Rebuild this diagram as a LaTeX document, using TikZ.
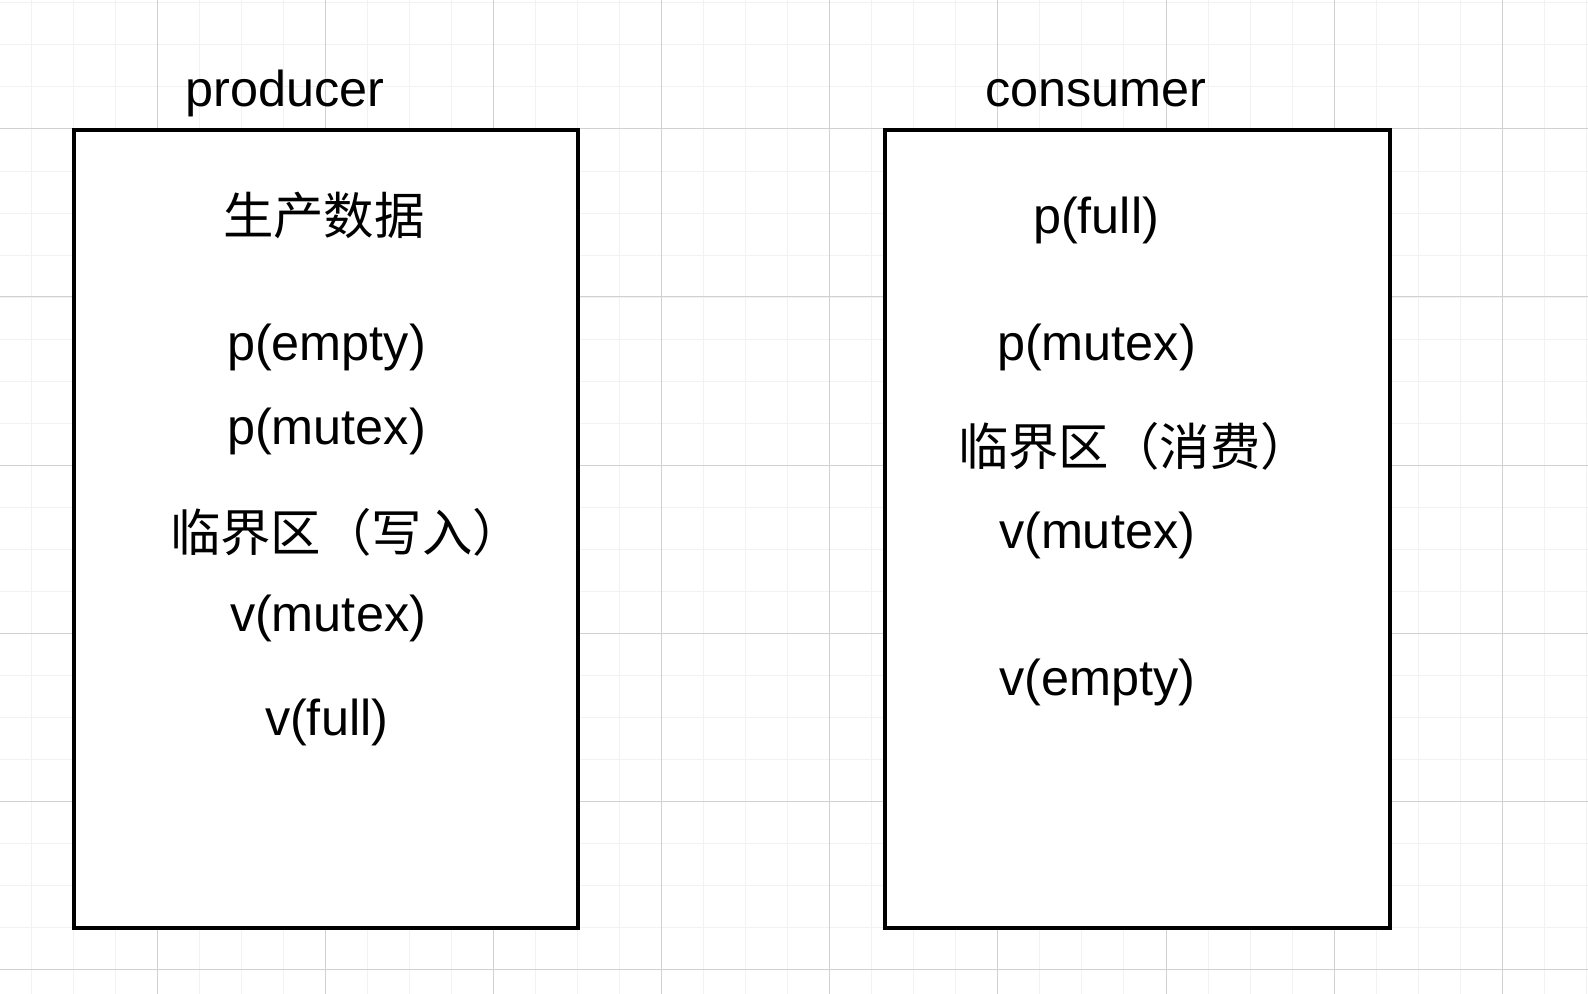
\documentclass[tikz,border=0pt]{standalone}
\usepackage{fontspec}
\setmainfont{Liberation Sans}
\newfontfamily\cjk{Noto Sans CJK SC}
\begin{document}
\begin{tikzpicture}[x=0.5pt,y=-0.5pt,
  minorgrid/.style={draw=black!5,line width=0.5pt},
  majorgrid/.style={draw=black!18,line width=0.5pt},
  frame/.style={draw=black,line width=2pt,fill=white,inner sep=0pt,outer sep=0pt},
  lbl/.style={inner sep=0pt,outer sep=0pt,anchor=base west,font=\fontsize{25.2}{30}\selectfont}]
\useasboundingbox (0,0) rectangle (1588,994);
\fill[white] (0,0) rectangle (1588,994);
% grid
\foreach \i in {0,...,37} {\draw[minorgrid] ({31.2+42.03*\i},0) -- ({31.2+42.03*\i},994);}
\foreach \i in {0,...,23} {\draw[minorgrid] (0,{2.9+42.03*\i}) -- (1588,{2.9+42.03*\i});}
\foreach \i in {0,...,8} {\draw[majorgrid] ({157.3+168.12*\i},0) -- ({157.3+168.12*\i},994);}
\foreach \i in {0,...,5} {\draw[majorgrid] (0,{129+168*\i}) -- (1588,{129+168*\i});}
% boxes
\node (prodbox) [frame,anchor=north west,minimum width=251.85pt,minimum height=398.85pt] at (74.3,130.3) {};
\node (consbox) [frame,anchor=north west,minimum width=252.1pt,minimum height=398.85pt] at (885.3,130.3) {};
% producer
\node (prodtitle) [lbl] at (185.4,106.7) {producer};
\node (prodgen) [lbl] at (223,235) {\cjk 生产数据};
\node (pempty) [lbl] at (227,360) {p(empty)};
\node (pmutexa) [lbl] at (227,444) {p(mutex)};
\node (crita) [lbl] at (170,551.5) {\cjk 临界区（写入）};
\node (vmutexa) [lbl] at (230,631) {v(mutex)};
\node (vfull) [lbl] at (265,735) {v(full)};
% consumer
\node (constitle) [lbl] at (985.5,106.7) {consumer};
\node (pfull) [lbl] at (1033,233.4) {p(full)};
\node (pmutexb) [lbl] at (997,360) {p(mutex)};
\node (critb) [lbl] at (958,465) {\cjk 临界区（消费）};
\node (vmutexb) [lbl] at (999,548) {v(mutex)};
\node (vempty) [lbl] at (999,695) {v(empty)};
\end{tikzpicture}
\end{document}
